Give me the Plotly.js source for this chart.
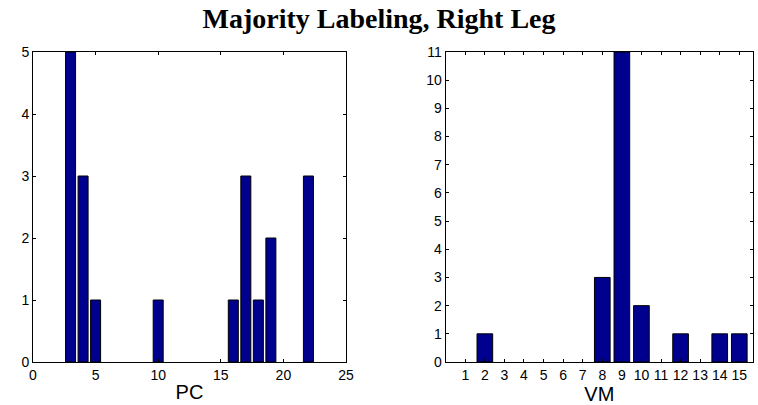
<!DOCTYPE html>
<html>
<head>
<meta charset="utf-8">
<script src="https://cdn.plot.ly/plotly-3.0.1.min.js"></script>
<style>html,body{margin:0;padding:0;background:#fff;}#chart{width:758px;height:405px;}</style>
</head>
<body>
<div id="chart"></div>
<script>
// Left panel: PC histogram
const pcCategories = [3, 4, 5, 10, 16, 17, 18, 19, 22];
const pcCounts     = [5, 3, 1, 1, 1, 3, 1, 2, 3];
const pcTicks      = [0, 5, 10, 15, 20, 25];

// Right panel: VM histogram
const vmCategories = [1, 2, 3, 4, 5, 6, 7, 8, 9, 10, 11, 12, 13, 14, 15];
const vmCounts     = [0, 1, 0, 0, 0, 0, 0, 3, 11, 2, 0, 1, 0, 1, 1];
const vmTicks      = [1, 2, 3, 4, 5, 6, 7, 8, 9, 10, 11, 12, 13, 14, 15];

const titleText = "Majority Labeling, Right Leg";
const barColor = "#00008F";

// zero-height bars are not drawn in the reference
const hideZero = arr => arr.map(v => (v === 0 ? null : v));

const traces = [
  {type: "bar", x: pcCategories, y: hideZero(pcCounts), width: 0.8, xaxis: "x", yaxis: "y",
   marker: {color: barColor, line: {color: "#000", width: 1}}, showlegend: false, hoverinfo: "x+y"},
  {type: "bar", x: vmCategories, y: hideZero(vmCounts), width: 0.8, xaxis: "x2", yaxis: "y2",
   marker: {color: barColor, line: {color: "#000", width: 1}}, showlegend: false, hoverinfo: "x+y"}
];

const axisTitleFont = {family: "Liberation Sans, Arial, sans-serif", size: 20, color: "#000"};
function makeAxis(extra) {
  return Object.assign({
    showline: true, linecolor: "#000", linewidth: 1, mirror: "allticks",
    ticks: "inside", ticklen: 3, tickcolor: "#000", tickwidth: 1,
    showgrid: false, zeroline: false, fixedrange: true, tickangle: 0,
    tickfont: {family: "Liberation Sans, Arial, sans-serif", size: 14, color: "#000"}
  }, extra);
}

const layout = {
  width: 758, height: 405,
  margin: {l: 33, r: 5, t: 52, b: 43},
  paper_bgcolor: "#fff", plot_bgcolor: "#fff",
  font: {family: "Liberation Sans, Arial, sans-serif", size: 14, color: "#000"},
  title: {text: "<b>" + titleText + "</b>", x: 0.5, xanchor: "center", y: 0.955, yanchor: "middle",
          font: {family: "Liberation Serif, Times New Roman, serif", size: 28, color: "#000"}},
  bargap: 0,
  xaxis: makeAxis({domain: [0, 0.4347], range: [0, 25], tickmode: "array", tickvals: pcTicks,
    title: {text: "PC", standoff: 3, font: axisTitleFont}}),
  yaxis: makeAxis({anchor: "x", range: [0, 5], dtick: 1, tick0: 0}),
  xaxis2: makeAxis({domain: [0.5732, 1], anchor: "y2", range: [0, 15.7], tickmode: "array", tickvals: vmTicks,
    title: {text: "VM", standoff: 3, font: axisTitleFont}}),
  yaxis2: makeAxis({anchor: "x2", range: [0, 11], dtick: 1, tick0: 0})
};

Plotly.newPlot("chart", traces, layout, {displayModeBar: false, staticPlot: true});
</script>
</body>
</html>
